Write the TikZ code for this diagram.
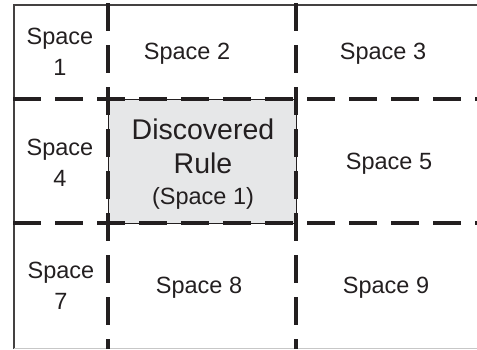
\documentclass[tikz,border=0pt]{standalone}
\usepackage{fontspec}
\setmainfont{Liberation Sans}
\usepackage{xcolor}
\definecolor{ink}{HTML}{231F20}
\definecolor{rulefill}{HTML}{E6E7E8}

\begin{document}
\begin{tikzpicture}[x=1pt, y=-1pt,
  every node/.style={text=ink, inner sep=0pt, align=center},
  cell/.style={font=\fontsize{23.5}{31}\selectfont},
  big/.style={font=\fontsize{28.5}{34}\selectfont},
  split/.style={draw=ink, line width=3.5pt, dash pattern=on 28pt off 14pt}]
\useasboundingbox (0,0) rectangle (477,349);
% frame: solid top and left, faint bottom
\draw[draw=ink!85, line width=1.3pt] (14,349) -- (14,5) -- (477,5);
\draw[draw=black!22, line width=1pt] (14,348) -- (477,348);
% the shaded middle cell
\draw[fill=rulefill, draw=ink, line width=0.8pt] (108,99) rectangle (296,223);
% dashed splits of the space
\draw[split] (108,3) -- (108,349);
\draw[split] (296,3) -- (296,349);
\draw[split] (13,99) -- (477,99);
\draw[split] (13,223) -- (477,223);
% cell labels
\node[cell] (sp1) at (60,52) {Space\\1};
\node[cell] (sp2) at (187,54) {Space 2};
\node[cell] (sp3) at (383,54) {Space 3};
\node[cell] (sp4) at (60,163) {Space\\4};
\node[big] (rule) at (203,164) {Discovered\\Rule\\[-3pt]{\fontsize{23.5}{28}\selectfont(Space 1)}};
\node[cell] (sp5) at (389,164) {Space 5};
\node[cell] (sp7) at (61,286) {Space\\7};
\node[cell] (sp8) at (199,288) {Space 8};
\node[cell] (sp9) at (386,288) {Space 9};
\end{tikzpicture}
\end{document}
